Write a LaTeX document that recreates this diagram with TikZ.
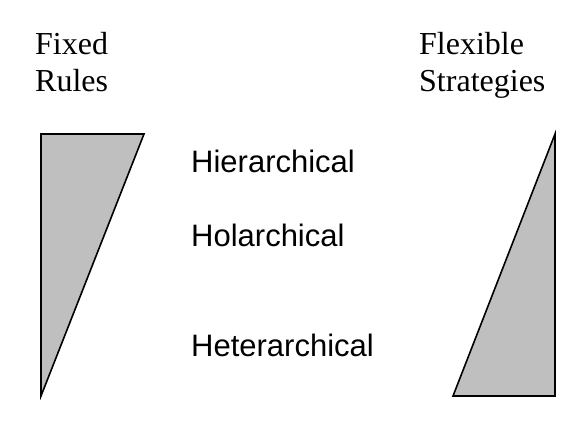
\documentclass[tikz,border=0pt]{standalone}
\usepackage{fontspec}
\setmainfont{Liberation Serif}
\newfontfamily\labelsans{Liberation Sans}
\begin{document}
\begin{tikzpicture}[x=1pt,y=-1pt,
  serlabel/.style={anchor=base west,inner sep=0pt,font=\fontsize{32}{37}\selectfont},
  sanlabel/.style={anchor=base west,inner sep=0pt,font=\labelsans\fontsize{31}{36}\selectfont},
  wedge/.style={draw=black,fill=black!25,line width=1.6pt,line join=miter}]
\useasboundingbox (0,0) rectangle (580,432);
% left wedge
\coordinate (l1) at (41,134);
\coordinate (l2) at (144,134);
\coordinate (l3) at (41,396);
\draw[wedge] (l1) -- (l2) -- (l3) -- cycle;
% right wedge
\coordinate (r1) at (555,134);
\coordinate (r2) at (555,396);
\coordinate (r3) at (453,396);
\draw[wedge] (r1) -- (r2) -- (r3) -- cycle;
% labels
\node[serlabel] (fixed) at (35,54) {Fixed};
\node[serlabel] (rules) at (35,91) {Rules};
\node[serlabel] (flex) at (419,54) {Flexible};
\node[serlabel] (strat) at (419,91) {Strategies};
\node[sanlabel] (hier) at (191,172.5) {Hierarchical};
\node[sanlabel] (hol) at (191,246.5) {Holarchical};
\node[sanlabel] (het) at (191,356.5) {Heterarchical};
\end{tikzpicture}
\end{document}
